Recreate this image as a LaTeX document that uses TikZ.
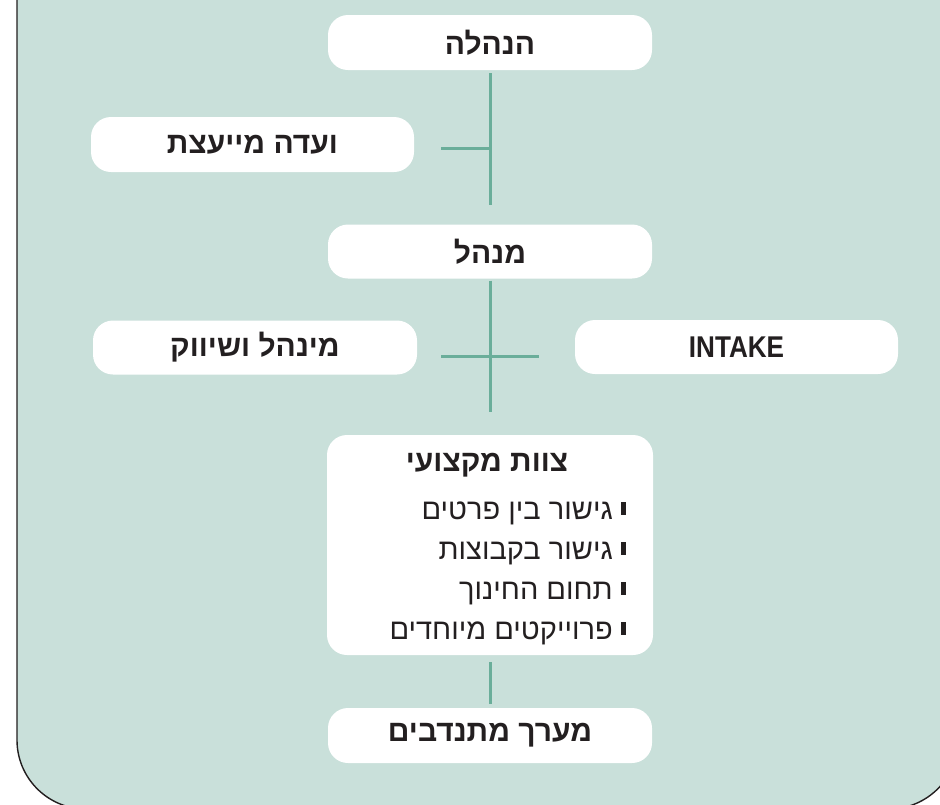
\documentclass[tikz,border=0pt]{standalone}
\usepackage{fontspec}
\TeXXeTstate=1
\newfontfamily\hebb[Script=Hebrew]{Liberation Sans}
\newfontfamily\latb[FakeStretch=0.87]{Liberation Sans}
\definecolor{bg}{HTML}{C9E0DA}
\definecolor{conncol}{HTML}{6AAE9A}
\definecolor{ink}{HTML}{231F20}
\tikzset{
  boxnode/.style={fill=white, rounded corners=20pt, minimum width=324pt, minimum height=55pt, inner sep=0pt,
    font=\hebb\bfseries\fontsize{30}{34}\selectfont, text=ink},
  conn/.style={draw=conncol, line width=3pt},
  itemtext/.style={anchor=base east, inner sep=0pt, font=\hebb\fontsize{29}{32}\selectfont, text=ink},
  titletext/.style={anchor=base, inner sep=0pt, font=\hebb\bfseries\fontsize{30}{34}\selectfont, text=ink}
}
\begin{document}
\begin{tikzpicture}[x=1pt,y=-1pt]
\useasboundingbox (0,0) rectangle (940,804);
\begin{scope}
\clip (0,0) rectangle (940,804);
\fill[white] (0,0) rectangle (940,804);
\filldraw[fill=bg, draw=ink, line width=1.4pt, rounded corners=69pt] (17,-100) -- (17,809) -- (958,809) -- (958,-100) -- cycle;
\end{scope}

\node[boxnode] (b1) at (490,42.5) {\beginR הנהלה\endR};
\node[boxnode, minimum width=323pt] (b2) at (252.5,144.5) {\beginR ועדה מייעצת\endR};
\node[boxnode, minimum height=54pt] (b3) at (490,251.5) {\beginR מנהל\endR};
\node[boxnode, minimum height=54pt] (b4) at (255,347.5) {\beginR מינהל ושיווק\endR};
\node[boxnode, minimum height=54pt, minimum width=323pt, font=\latb\bfseries\fontsize{30}{34}\selectfont] (b5) at (736.5,347) {INTAKE};
\node[boxnode, minimum width=326pt, minimum height=220pt] (b6) at (490,545) {};
\node[boxnode] (b7) at (490,735.5) {\beginR מערך מתנדבים\endR};

\node[titletext] (t0) at (487,471) {\beginR צוות מקצועי\endR};
\node[itemtext] (i1) at (613,519) {\beginR גישור בין פרטים\endR};
\node[itemtext] (i2) at (613,559) {\beginR גישור בקבוצות\endR};
\node[itemtext] (i3) at (613,599) {\beginR תחום החינוך\endR};
\node[itemtext] (i4) at (613,639) {\beginR פרוייקטים מיוחדים\endR};
\foreach \yy in {508.5,548.5,588.5,628.5} {
  \fill[ink] (620.5,\yy-6.5) rectangle (626,\yy+6.5);
}

\coordinate (j1) at (490,205);
\coordinate (j2) at (441,148);
\coordinate (j3) at (490,148);
\coordinate (k1) at (490,412);
\coordinate (k2) at (441,356);
\coordinate (k3) at (539,356);

\draw[conn] ([yshift=-3pt]b1.south) -- (j1);
\draw[conn] (j2) -- (j3);
\draw[conn] ([yshift=-2pt]b3.south) -- (k1);
\draw[conn] (k2) -- (k3);
\draw[conn] ([yshift=-7pt]b6.south) -- ([yshift=4pt]b7.north);
\end{tikzpicture}
\end{document}
